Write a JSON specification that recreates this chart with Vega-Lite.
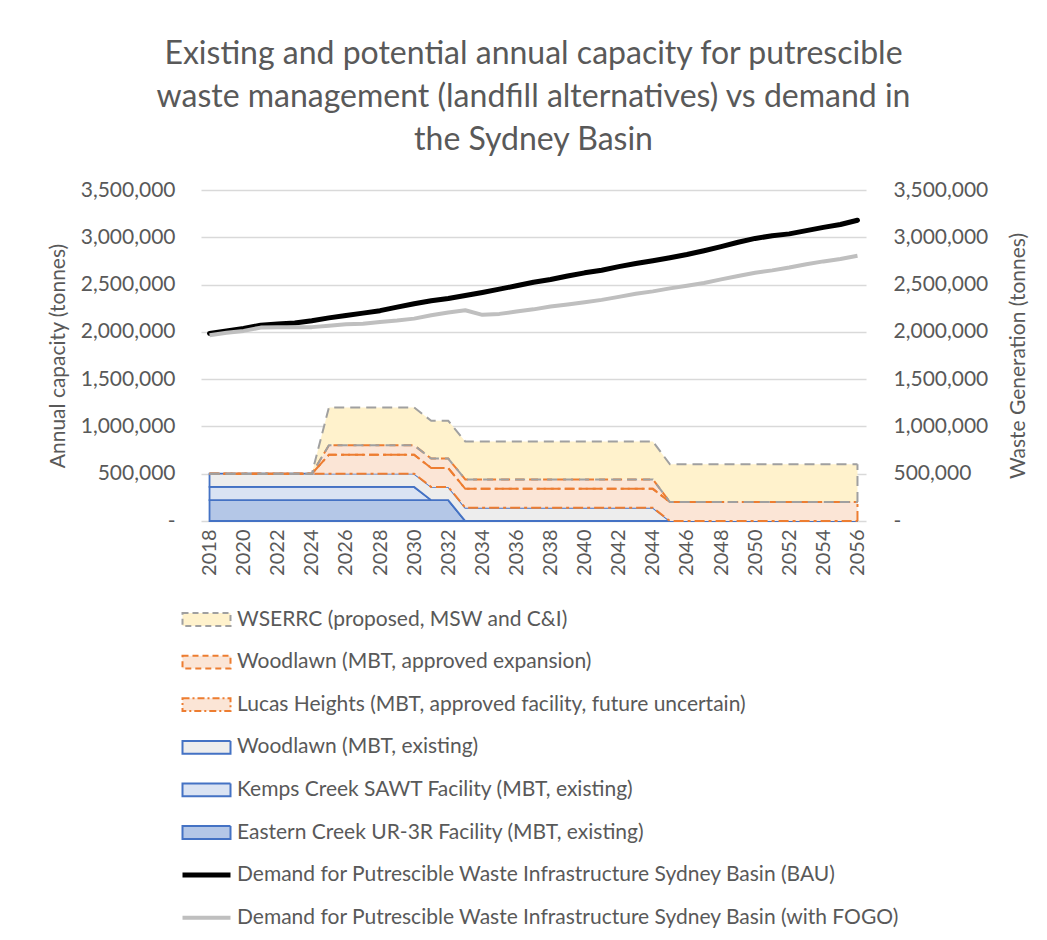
{
  "$schema": "https://vega.github.io/schema/vega-lite/v6.json",
  "autosize": {"type": "none"},
  "padding": {"left": 201, "top": 190, "right": 181, "bottom": 419},
  "width": 665,
  "height": 331,
  "background": "white",
  "config": {"view": {"stroke": null}, "font": "Lato"},
  "title": {
    "text": ["Existing and potential annual capacity for putrescible", "waste management (landfill alternatives) vs demand in", "the Sydney Basin"],
    "font": "Lato", "fontSize": 32, "fontWeight": "normal", "color": "#595959",
    "anchor": "middle", "frame": "group", "lineHeight": 43, "offset": 22
  },
  "datasets": {
    "capacity": [
      {"series":"s1","year":2018,"value":220000},{"series":"s1","year":2019,"value":220000},{"series":"s1","year":2020,"value":220000},{"series":"s1","year":2021,"value":220000},{"series":"s1","year":2022,"value":220000},{"series":"s1","year":2023,"value":220000},{"series":"s1","year":2024,"value":220000},{"series":"s1","year":2025,"value":220000},{"series":"s1","year":2026,"value":220000},{"series":"s1","year":2027,"value":220000},{"series":"s1","year":2028,"value":220000},{"series":"s1","year":2029,"value":220000},{"series":"s1","year":2030,"value":220000},{"series":"s1","year":2031,"value":220000},{"series":"s1","year":2032,"value":220000},{"series":"s1","year":2033,"value":0},{"series":"s1","year":2034,"value":0},{"series":"s1","year":2035,"value":0},{"series":"s1","year":2036,"value":0},{"series":"s1","year":2037,"value":0},{"series":"s1","year":2038,"value":0},{"series":"s1","year":2039,"value":0},{"series":"s1","year":2040,"value":0},{"series":"s1","year":2041,"value":0},{"series":"s1","year":2042,"value":0},{"series":"s1","year":2043,"value":0},{"series":"s1","year":2044,"value":0},{"series":"s1","year":2045,"value":0},{"series":"s1","year":2046,"value":0},{"series":"s1","year":2047,"value":0},{"series":"s1","year":2048,"value":0},{"series":"s1","year":2049,"value":0},{"series":"s1","year":2050,"value":0},{"series":"s1","year":2051,"value":0},{"series":"s1","year":2052,"value":0},{"series":"s1","year":2053,"value":0},{"series":"s1","year":2054,"value":0},{"series":"s1","year":2055,"value":0},{"series":"s1","year":2056,"value":0},
      {"series":"s2","year":2018,"value":140000},{"series":"s2","year":2019,"value":140000},{"series":"s2","year":2020,"value":140000},{"series":"s2","year":2021,"value":140000},{"series":"s2","year":2022,"value":140000},{"series":"s2","year":2023,"value":140000},{"series":"s2","year":2024,"value":140000},{"series":"s2","year":2025,"value":140000},{"series":"s2","year":2026,"value":140000},{"series":"s2","year":2027,"value":140000},{"series":"s2","year":2028,"value":140000},{"series":"s2","year":2029,"value":140000},{"series":"s2","year":2030,"value":140000},{"series":"s2","year":2031,"value":0},{"series":"s2","year":2032,"value":0},{"series":"s2","year":2033,"value":0},{"series":"s2","year":2034,"value":0},{"series":"s2","year":2035,"value":0},{"series":"s2","year":2036,"value":0},{"series":"s2","year":2037,"value":0},{"series":"s2","year":2038,"value":0},{"series":"s2","year":2039,"value":0},{"series":"s2","year":2040,"value":0},{"series":"s2","year":2041,"value":0},{"series":"s2","year":2042,"value":0},{"series":"s2","year":2043,"value":0},{"series":"s2","year":2044,"value":0},{"series":"s2","year":2045,"value":0},{"series":"s2","year":2046,"value":0},{"series":"s2","year":2047,"value":0},{"series":"s2","year":2048,"value":0},{"series":"s2","year":2049,"value":0},{"series":"s2","year":2050,"value":0},{"series":"s2","year":2051,"value":0},{"series":"s2","year":2052,"value":0},{"series":"s2","year":2053,"value":0},{"series":"s2","year":2054,"value":0},{"series":"s2","year":2055,"value":0},{"series":"s2","year":2056,"value":0},
      {"series":"s3","year":2018,"value":140000},{"series":"s3","year":2019,"value":140000},{"series":"s3","year":2020,"value":140000},{"series":"s3","year":2021,"value":140000},{"series":"s3","year":2022,"value":140000},{"series":"s3","year":2023,"value":140000},{"series":"s3","year":2024,"value":140000},{"series":"s3","year":2025,"value":140000},{"series":"s3","year":2026,"value":140000},{"series":"s3","year":2027,"value":140000},{"series":"s3","year":2028,"value":140000},{"series":"s3","year":2029,"value":140000},{"series":"s3","year":2030,"value":140000},{"series":"s3","year":2031,"value":140000},{"series":"s3","year":2032,"value":140000},{"series":"s3","year":2033,"value":140000},{"series":"s3","year":2034,"value":140000},{"series":"s3","year":2035,"value":140000},{"series":"s3","year":2036,"value":140000},{"series":"s3","year":2037,"value":140000},{"series":"s3","year":2038,"value":140000},{"series":"s3","year":2039,"value":140000},{"series":"s3","year":2040,"value":140000},{"series":"s3","year":2041,"value":140000},{"series":"s3","year":2042,"value":140000},{"series":"s3","year":2043,"value":140000},{"series":"s3","year":2044,"value":140000},{"series":"s3","year":2045,"value":0},{"series":"s3","year":2046,"value":0},{"series":"s3","year":2047,"value":0},{"series":"s3","year":2048,"value":0},{"series":"s3","year":2049,"value":0},{"series":"s3","year":2050,"value":0},{"series":"s3","year":2051,"value":0},{"series":"s3","year":2052,"value":0},{"series":"s3","year":2053,"value":0},{"series":"s3","year":2054,"value":0},{"series":"s3","year":2055,"value":0},{"series":"s3","year":2056,"value":0},
      {"series":"s4","year":2018,"value":0},{"series":"s4","year":2019,"value":0},{"series":"s4","year":2020,"value":0},{"series":"s4","year":2021,"value":0},{"series":"s4","year":2022,"value":0},{"series":"s4","year":2023,"value":0},{"series":"s4","year":2024,"value":0},{"series":"s4","year":2025,"value":200000},{"series":"s4","year":2026,"value":200000},{"series":"s4","year":2027,"value":200000},{"series":"s4","year":2028,"value":200000},{"series":"s4","year":2029,"value":200000},{"series":"s4","year":2030,"value":200000},{"series":"s4","year":2031,"value":200000},{"series":"s4","year":2032,"value":200000},{"series":"s4","year":2033,"value":200000},{"series":"s4","year":2034,"value":200000},{"series":"s4","year":2035,"value":200000},{"series":"s4","year":2036,"value":200000},{"series":"s4","year":2037,"value":200000},{"series":"s4","year":2038,"value":200000},{"series":"s4","year":2039,"value":200000},{"series":"s4","year":2040,"value":200000},{"series":"s4","year":2041,"value":200000},{"series":"s4","year":2042,"value":200000},{"series":"s4","year":2043,"value":200000},{"series":"s4","year":2044,"value":200000},{"series":"s4","year":2045,"value":200000},{"series":"s4","year":2046,"value":200000},{"series":"s4","year":2047,"value":200000},{"series":"s4","year":2048,"value":200000},{"series":"s4","year":2049,"value":200000},{"series":"s4","year":2050,"value":200000},{"series":"s4","year":2051,"value":200000},{"series":"s4","year":2052,"value":200000},{"series":"s4","year":2053,"value":200000},{"series":"s4","year":2054,"value":200000},{"series":"s4","year":2055,"value":200000},{"series":"s4","year":2056,"value":200000},
      {"series":"s5","year":2018,"value":0},{"series":"s5","year":2019,"value":0},{"series":"s5","year":2020,"value":0},{"series":"s5","year":2021,"value":0},{"series":"s5","year":2022,"value":0},{"series":"s5","year":2023,"value":0},{"series":"s5","year":2024,"value":0},{"series":"s5","year":2025,"value":100000},{"series":"s5","year":2026,"value":100000},{"series":"s5","year":2027,"value":100000},{"series":"s5","year":2028,"value":100000},{"series":"s5","year":2029,"value":100000},{"series":"s5","year":2030,"value":100000},{"series":"s5","year":2031,"value":100000},{"series":"s5","year":2032,"value":100000},{"series":"s5","year":2033,"value":100000},{"series":"s5","year":2034,"value":100000},{"series":"s5","year":2035,"value":100000},{"series":"s5","year":2036,"value":100000},{"series":"s5","year":2037,"value":100000},{"series":"s5","year":2038,"value":100000},{"series":"s5","year":2039,"value":100000},{"series":"s5","year":2040,"value":100000},{"series":"s5","year":2041,"value":100000},{"series":"s5","year":2042,"value":100000},{"series":"s5","year":2043,"value":100000},{"series":"s5","year":2044,"value":100000},{"series":"s5","year":2045,"value":0},{"series":"s5","year":2046,"value":0},{"series":"s5","year":2047,"value":0},{"series":"s5","year":2048,"value":0},{"series":"s5","year":2049,"value":0},{"series":"s5","year":2050,"value":0},{"series":"s5","year":2051,"value":0},{"series":"s5","year":2052,"value":0},{"series":"s5","year":2053,"value":0},{"series":"s5","year":2054,"value":0},{"series":"s5","year":2055,"value":0},{"series":"s5","year":2056,"value":0},
      {"series":"s6","year":2018,"value":0},{"series":"s6","year":2019,"value":0},{"series":"s6","year":2020,"value":0},{"series":"s6","year":2021,"value":0},{"series":"s6","year":2022,"value":0},{"series":"s6","year":2023,"value":0},{"series":"s6","year":2024,"value":0},{"series":"s6","year":2025,"value":400000},{"series":"s6","year":2026,"value":400000},{"series":"s6","year":2027,"value":400000},{"series":"s6","year":2028,"value":400000},{"series":"s6","year":2029,"value":400000},{"series":"s6","year":2030,"value":400000},{"series":"s6","year":2031,"value":400000},{"series":"s6","year":2032,"value":400000},{"series":"s6","year":2033,"value":400000},{"series":"s6","year":2034,"value":400000},{"series":"s6","year":2035,"value":400000},{"series":"s6","year":2036,"value":400000},{"series":"s6","year":2037,"value":400000},{"series":"s6","year":2038,"value":400000},{"series":"s6","year":2039,"value":400000},{"series":"s6","year":2040,"value":400000},{"series":"s6","year":2041,"value":400000},{"series":"s6","year":2042,"value":400000},{"series":"s6","year":2043,"value":400000},{"series":"s6","year":2044,"value":400000},{"series":"s6","year":2045,"value":400000},{"series":"s6","year":2046,"value":400000},{"series":"s6","year":2047,"value":400000},{"series":"s6","year":2048,"value":400000},{"series":"s6","year":2049,"value":400000},{"series":"s6","year":2050,"value":400000},{"series":"s6","year":2051,"value":400000},{"series":"s6","year":2052,"value":400000},{"series":"s6","year":2053,"value":400000},{"series":"s6","year":2054,"value":400000},{"series":"s6","year":2055,"value":400000},{"series":"s6","year":2056,"value":400000}
    ],
    "demand": [
      {"series":"s7","year":2018,"value":1984000},{"series":"s7","year":2019,"value":2010000},{"series":"s7","year":2020,"value":2035000},{"series":"s7","year":2021,"value":2070000},{"series":"s7","year":2022,"value":2082000},{"series":"s7","year":2023,"value":2094000},{"series":"s7","year":2024,"value":2118000},{"series":"s7","year":2025,"value":2148000},{"series":"s7","year":2026,"value":2174000},{"series":"s7","year":2027,"value":2198000},{"series":"s7","year":2028,"value":2224000},{"series":"s7","year":2029,"value":2262000},{"series":"s7","year":2030,"value":2298000},{"series":"s7","year":2031,"value":2328000},{"series":"s7","year":2032,"value":2352000},{"series":"s7","year":2033,"value":2384000},{"series":"s7","year":2034,"value":2417000},{"series":"s7","year":2035,"value":2452000},{"series":"s7","year":2036,"value":2487000},{"series":"s7","year":2037,"value":2525000},{"series":"s7","year":2038,"value":2553000},{"series":"s7","year":2039,"value":2590000},{"series":"s7","year":2040,"value":2624000},{"series":"s7","year":2041,"value":2652000},{"series":"s7","year":2042,"value":2690000},{"series":"s7","year":2043,"value":2722000},{"series":"s7","year":2044,"value":2752000},{"series":"s7","year":2045,"value":2784000},{"series":"s7","year":2046,"value":2818000},{"series":"s7","year":2047,"value":2858000},{"series":"s7","year":2048,"value":2902000},{"series":"s7","year":2049,"value":2948000},{"series":"s7","year":2050,"value":2988000},{"series":"s7","year":2051,"value":3016000},{"series":"s7","year":2052,"value":3036000},{"series":"s7","year":2053,"value":3070000},{"series":"s7","year":2054,"value":3105000},{"series":"s7","year":2055,"value":3135000},{"series":"s7","year":2056,"value":3180000},
      {"series":"s8","year":2018,"value":1965000},{"series":"s8","year":2019,"value":1990000},{"series":"s8","year":2020,"value":2010000},{"series":"s8","year":2021,"value":2045000},{"series":"s8","year":2022,"value":2050000},{"series":"s8","year":2023,"value":2048000},{"series":"s8","year":2024,"value":2050000},{"series":"s8","year":2025,"value":2065000},{"series":"s8","year":2026,"value":2080000},{"series":"s8","year":2027,"value":2085000},{"series":"s8","year":2028,"value":2105000},{"series":"s8","year":2029,"value":2120000},{"series":"s8","year":2030,"value":2140000},{"series":"s8","year":2031,"value":2175000},{"series":"s8","year":2032,"value":2205000},{"series":"s8","year":2033,"value":2228000},{"series":"s8","year":2034,"value":2180000},{"series":"s8","year":2035,"value":2190000},{"series":"s8","year":2036,"value":2215000},{"series":"s8","year":2037,"value":2238000},{"series":"s8","year":2038,"value":2268000},{"series":"s8","year":2039,"value":2290000},{"series":"s8","year":2040,"value":2314000},{"series":"s8","year":2041,"value":2338000},{"series":"s8","year":2042,"value":2370000},{"series":"s8","year":2043,"value":2402000},{"series":"s8","year":2044,"value":2428000},{"series":"s8","year":2045,"value":2460000},{"series":"s8","year":2046,"value":2487000},{"series":"s8","year":2047,"value":2517000},{"series":"s8","year":2048,"value":2555000},{"series":"s8","year":2049,"value":2590000},{"series":"s8","year":2050,"value":2625000},{"series":"s8","year":2051,"value":2650000},{"series":"s8","year":2052,"value":2680000},{"series":"s8","year":2053,"value":2715000},{"series":"s8","year":2054,"value":2745000},{"series":"s8","year":2055,"value":2770000},{"series":"s8","year":2056,"value":2805000}
    ]
  },
  "encoding": {
    "x": {
      "field": "year", "type": "quantitative",
      "scale": {"domain": [2017.5, 2056.5], "nice": false, "zero": false},
      "axis": {
        "values": [2018,2020,2022,2024,2026,2028,2030,2032,2034,2036,2038,2040,2042,2044,2046,2048,2050,2052,2054,2056],
        "format": "d", "labelAngle": -90, "labelFont": "Lato", "labelFontSize": 20, "labelColor": "#595959",
        "ticks": false, "domain": false, "grid": false, "labelPadding": 8, "title": null
      }
    }
  },
  "layer": [
    {
      "data": {"name": "capacity"},
      "mark": {"type": "area", "strokeWidth": 1.8, "interpolate": "linear"},
      "encoding": {
        "y": {
          "field": "value", "type": "quantitative", "stack": "zero",
          "scale": {"domain": [0, 3500000], "nice": false},
          "axis": {
            "orient": "left", "values": [0,500000,1000000,1500000,2000000,2500000,3000000,3500000],
            "format": ",d", "labelExpr": "datum.value == 0 ? '-\u00a0\u00a0\u00a0' : datum.label",
            "title": "Annual capacity (tonnes)", "grid": true, "gridColor": "#D9D9D9", "gridWidth": 1.3,
            "domain": false, "ticks": false, "labelPadding": 26, "labelFont": "Lato", "labelFontSize": 21,
            "labelColor": "#595959", "titleFont": "Lato", "titleFontSize": 21, "titleFontWeight": "normal",
            "titleColor": "#595959", "titlePadding": 12
          }
        },
        "fill": {
          "field": "series", "type": "nominal",
          "scale": {"domain": ["s6","s5","s4","s3","s2","s1","s7","s8"], "range": ["#FFF2CC","#FBE5D6","#FBE5D6","#EDEDED","#DAE3F3","#B4C7E7","transparent","transparent"]},
          "legend": {
            "orient": "none", "legendX": 15, "legendY": 419, "direction": "vertical", "columns": 1, "title": null,
            "labelFont": "Lato", "labelFontSize": 21, "labelColor": "#595959", "labelLimit": 0,
            "symbolSize": 256, "labelOffset": 0, "rowPadding": 20.6, "padding": 0,
            "labelExpr": "{'s6':'WSERRC (proposed, MSW and C&I)','s5':'Woodlawn (MBT, approved expansion)','s4':'Lucas Heights (MBT, approved facility, future uncertain)','s3':'Woodlawn (MBT, existing)','s2':'Kemps Creek SAWT Facility (MBT, existing)','s1':'Eastern Creek UR-3R Facility (MBT, existing)','s7':'Demand for Putrescible Waste Infrastructure Sydney Basin (BAU)','s8':'Demand for Putrescible Waste Infrastructure Sydney Basin (with FOGO)'}[datum.value]",
            "encode": {"symbols": {"update": {
              "shape": {"signal": "datum.value == 's7' || datum.value == 's8' ? 'M-5.5,0H0.5' : 'M-5.5,-0.8H0.5V0.8H-5.5Z'"},
              "strokeWidth": {"signal": "datum.value == 's7' ? 5 : datum.value == 's8' ? 4 : 2"},
              "strokeOpacity": {"value": 1},
              "strokeDash": {"signal": "datum.value == 's6' ? [6,4] : datum.value == 's5' ? [6,4] : datum.value == 's4' ? [7,3,2,3] : [1,0]"}
            }}}
          }
        },
        "stroke": {
          "field": "series", "type": "nominal",
          "scale": {"domain": ["s6","s5","s4","s3","s2","s1","s7","s8"], "range": ["#A0A0A0","#ED7D31","#ED7D31","#4472C4","#4472C4","#4472C4","#000000","#BFBFBF"]},
          "legend": {
            "orient": "none", "legendX": 15, "legendY": 419, "direction": "vertical", "columns": 1, "title": null,
            "labelFont": "Lato", "labelFontSize": 21, "labelColor": "#595959", "labelLimit": 0,
            "symbolSize": 256, "labelOffset": 0, "rowPadding": 20.6, "padding": 0
          }
        },
        "strokeOpacity": {"condition": {"test": "datum.series <= 's3'", "value": 1}, "value": 0},
        "order": {"field": "series", "type": "nominal", "sort": "ascending"}
      }
    },
    {
      "data": {"name": "capacity"},
      "transform": [
        {"stack": "value", "groupby": ["year"], "sort": [{"field": "series", "order": "ascending"}], "as": ["v0", "v1"]},
        {"filter": "datum.series >= 's4'"},
        {"fold": ["v0", "v1"], "as": ["edge", "pos"]}
      ],
      "mark": {"type": "line", "strokeWidth": 2},
      "encoding": {
        "y": {"field": "pos", "type": "quantitative", "scale": {"domain": [0, 3500000], "nice": false}, "axis": null},
        "detail": [{"field": "series", "type": "nominal"}, {"field": "edge", "type": "nominal"}],
        "stroke": {"condition": {"test": "datum.series == 's6'", "value": "#A0A0A0"}, "value": "#ED7D31"},
        "strokeDash": {
          "condition": [
            {"test": "datum.series == 's6'", "value": [10,6]},
            {"test": "datum.series == 's5'", "value": [9,5]}
          ],
          "value": [10,4,3,4]
        }
      }
    },
    {
      "data": {"name": "capacity"},
      "transform": [
        {"stack": "value", "groupby": ["year"], "sort": [{"field": "series", "order": "ascending"}], "as": ["v0", "v1"]},
        {"filter": "datum.series >= 's4' && datum.year == 2056"}
      ],
      "mark": {"type": "rule", "strokeWidth": 2},
      "encoding": {
        "y": {"field": "v0", "type": "quantitative", "scale": {"domain": [0, 3500000], "nice": false}, "axis": null},
        "y2": {"field": "v1"},
        "stroke": {"condition": {"test": "datum.series == 's6'", "value": "#A0A0A0"}, "value": "#ED7D31"},
        "strokeDash": {
          "condition": [
            {"test": "datum.series == 's6'", "value": [10,6]},
            {"test": "datum.series == 's5'", "value": [9,5]}
          ],
          "value": [10,4,3,4]
        }
      }
    },
    {
      "data": {"name": "demand"},
      "transform": [{"filter": "datum.series == 's7'"}],
      "mark": {"type": "line", "strokeWidth": 5, "strokeCap": "round", "strokeJoin": "round", "stroke": "#000000"},
      "encoding": {
        "y": {
          "field": "value", "type": "quantitative",
          "scale": {"domain": [0, 3500000], "nice": false},
          "axis": {
            "orient": "right", "values": [0,500000,1000000,1500000,2000000,2500000,3000000,3500000],
            "format": ",d", "labelExpr": "datum.value == 0 ? '\u00a0-' : datum.label",
            "title": "Waste Generation (tonnes)", "grid": false, "domain": false, "ticks": false,
            "labelPadding": 27, "labelFont": "Lato", "labelFontSize": 21, "labelColor": "#595959",
            "titleFont": "Lato", "titleFontSize": 21, "titleFontWeight": "normal", "titleColor": "#595959",
            "titleAngle": -90, "titleBaseline": "top", "titlePadding": 20
          }
        }
      }
    },
    {
      "data": {"name": "demand"},
      "transform": [{"filter": "datum.series == 's8'"}],
      "mark": {"type": "line", "strokeWidth": 4, "strokeCap": "butt", "strokeJoin": "round", "stroke": "#BFBFBF"},
      "encoding": {
        "y": {
          "field": "value", "type": "quantitative",
          "scale": {"domain": [0, 3500000], "nice": false},
          "axis": null
        }
      }
    }
  ],
  "resolve": {"scale": {"y": "independent"}}
}
